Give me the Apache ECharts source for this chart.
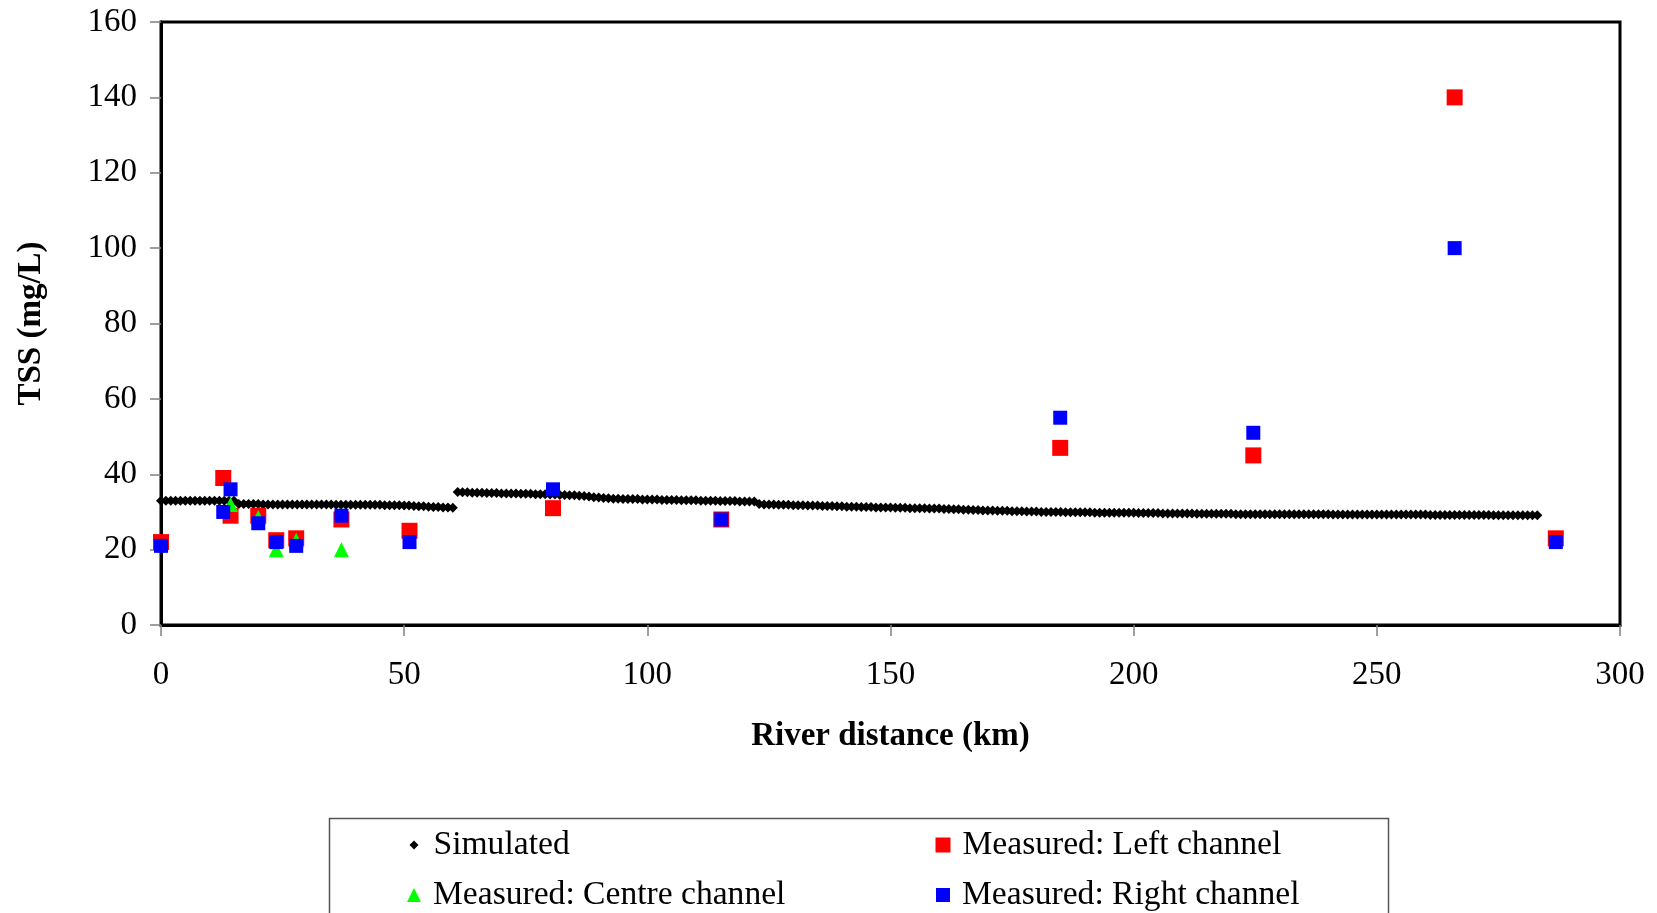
<!DOCTYPE html>
<html>
<head>
<meta charset="utf-8">
<script src="https://cdn.jsdelivr.net/npm/echarts@6/dist/echarts.min.js"></script>
<style>
html,body{margin:0;padding:0;background:#fff;}
#chart{width:1657px;height:913px;}
</style>
</head>
<body>
<div id="chart"></div>
<script>
// ---- Data ----
const xTicks = [0, 50, 100, 150, 200, 250, 300];
const yTicks = [0, 20, 40, 60, 80, 100, 120, 140, 160];

// Simulated TSS, one value per km starting at 0 km
const simStartKm = 0;
const simStepKm = 1;
const simulated = [
  33,33,33,33,33,33,33,33,33,33,33,33,33,33,33,33,
  32.1,32.1,32.1,32.1,32.1,32.0,32.0,32.0,32.0,32.0,32.0,32.0,32.0,32.0,32.0,32.0,32.0,32.0,32.0,32.0,31.9,31.9,31.9,31.9,31.9,31.9,31.9,31.9,31.9,31.9,31.8,31.8,31.8,
  31.8,31.7,31.7,31.6,31.5,31.5,31.4,31.3,31.3,31.2,31.2,31.1,
  35.3,35.2,35.2,35.1,35.1,35.1,35.0,35.0,35.0,34.9,34.9,34.9,34.9,34.8,34.8,34.8,34.7,34.7,34.7,34.6,
  34.6,34.5,34.5,34.4,34.4,34.3,34.2,34.1,33.9,33.8,33.7,33.6,
  33.5,33.5,33.4,33.4,33.4,33.4,33.3,33.3,33.3,33.3,33.2,33.2,33.2,33.2,33.1,33.1,33.1,33.1,33.0,33.0,33.0,33.0,32.9,32.9,32.9,32.9,32.8,32.8,32.8,32.8,
  32.1,32.0,32.0,32.0,31.9,31.9,31.9,31.8,31.8,31.8,31.7,31.7,31.7,31.6,31.6,31.6,31.5,31.5,
  31.4,31.4,31.4,31.3,31.3,31.3,31.2,31.2,31.2,31.2,31.1,31.1,31.1,31.0,31.0,31.0,31.0,30.9,30.9,30.9,
  30.8,30.8,30.7,30.7,30.6,30.6,30.5,30.5,30.4,30.4,30.4,30.3,30.3,30.3,30.2,30.2,30.2,30.1,30.1,30.1,
  30.0,30.0,30.0,30.0,30.0,29.9,29.9,29.9,29.9,29.9,29.9,29.8,29.8,29.8,29.8,29.8,29.8,29.8,29.8,29.8,
  29.7,29.7,29.7,29.7,29.7,29.6,29.6,29.6,29.6,29.6,29.6,29.6,29.5,29.5,29.5,29.5,29.5,29.5,29.5,29.5,
  29.4,29.4,29.4,29.4,29.4,29.4,29.4,29.4,29.4,29.4,29.4,29.4,29.4,29.4,29.4,29.4,29.4,29.4,29.4,29.4,
  29.3,29.3,29.3,29.3,29.3,29.3,29.3,29.3,29.3,29.3,29.3,29.3,29.3,29.3,29.3,29.3,29.3,29.3,29.3,29.3,
  29.2,29.2,29.2,29.2,29.2,29.2,29.2,29.2,29.2,29.2,29.2,29.2,29.2,
  29.1,29.1,29.1,29.1,29.1,29.1,29.1,29.1,29.1,29.1
];

const leftKm    = [0, 12.8, 14.3, 20.0, 23.7, 27.8, 37.1, 51.1, 80.6, 115.2, 184.9, 224.6, 266.0, 286.8];
const leftTSS   = [22, 39, 29, 29, 22.5, 23, 28, 25, 31, 28, 47, 45, 140, 23];

const centreKm  = [14.3, 20.0, 23.7, 27.8, 37.1];
const centreTSS = [32, 28.5, 20, 22.5, 20];

const rightKm   = [0, 12.8, 14.3, 20.0, 23.7, 27.8, 37.1, 51.1, 80.6, 115.2, 184.9, 224.6, 266.0, 286.8];
const rightTSS  = [21, 30, 36, 27, 22, 21, 29, 22, 36, 28, 55, 51, 100, 22];

const names = ['Simulated', 'Measured: Left channel', 'Measured: Centre channel', 'Measured: Right channel'];

// ---- Build ----
const pair = (xs, ys) => xs.map((x, i) => [x, ys[i]]);
const simData = simulated.map((v, i) => [simStartKm + i * simStepKm, v]);

const FONT = '"Liberation Serif", "Times New Roman", serif';
const chart = echarts.init(document.getElementById('chart'), null, {renderer: 'canvas'});

function legendAt(name, icon, size, left, top, pad) {
  return {
    data: [{name: name, icon: icon}],
    left: left, top: top,
    itemWidth: size, itemHeight: size,
    padding: 0,
    selectedMode: false,
    itemStyle: {opacity: 1},
    textStyle: {fontFamily: FONT, fontSize: 33.6, color: '#000', lineHeight: 36, padding: [0, 0, 0, pad]}
  };
}

chart.setOption({
  backgroundColor: '#fff',
  animation: false,
  grid: {left: 161, right: 37, top: 22, bottom: 288, show: true, borderColor: '#000', borderWidth: 3, backgroundColor: 'transparent'},
  xAxis: {
    type: 'value', min: xTicks[0], max: xTicks[xTicks.length - 1], interval: 50,
    name: 'River distance (km)', nameLocation: 'middle', nameGap: 95,
    nameTextStyle: {fontFamily: FONT, fontSize: 33, fontWeight: 'bold', color: '#000'},
    axisLine: {lineStyle: {color: '#000', width: 3}},
    axisTick: {show: true, length: 11, lineStyle: {color: '#808080', width: 1.5}},
    axisLabel: {fontFamily: FONT, fontSize: 33, color: '#000', margin: 34},
    splitLine: {show: false}
  },
  yAxis: {
    type: 'value', min: yTicks[0], max: yTicks[yTicks.length - 1], interval: 20,
    name: 'TSS (mg/L)', nameLocation: 'middle', nameGap: 113, nameRotate: 90,
    nameTextStyle: {fontFamily: FONT, fontSize: 33, fontWeight: 'bold', color: '#000'},
    axisLine: {show: true, lineStyle: {color: '#000', width: 3}},
    axisTick: {show: true, length: 11, lineStyle: {color: '#808080', width: 1.5}},
    axisLabel: {fontFamily: FONT, fontSize: 33, color: '#000', margin: 24},
    splitLine: {show: false}
  },
  legend: [
    legendAt(names[0], 'diamond', 9, 409.5, 827, 10),
    legendAt(names[1], 'rect', 15, 935.5, 827, 7),
    legendAt(names[2], 'triangle', 14, 407, 877, 7),
    legendAt(names[3], 'rect', 14, 936, 877, 7)
  ],
  graphic: [{
    type: 'rect', left: 327, top: 816, silent: true, z: -1,
    shape: {width: 1059, height: 140},
    style: {fill: 'none', stroke: '#555', lineWidth: 1.5}
  }],
  series: [
    {name: names[0], type: 'scatter', data: simData, symbol: 'diamond', symbolSize: 10,
     itemStyle: {color: '#000', opacity: 1}, z: 2},
    {name: names[1], type: 'scatter', data: pair(leftKm, leftTSS), symbol: 'rect', symbolSize: 16,
     itemStyle: {color: '#ff0000', opacity: 1}, z: 3},
    {name: names[2], type: 'scatter', data: pair(centreKm, centreTSS), symbol: 'triangle', symbolSize: 15,
     itemStyle: {color: '#00ff00', opacity: 1}, z: 4},
    {name: names[3], type: 'scatter', data: pair(rightKm, rightTSS), symbol: 'rect', symbolSize: 14,
     itemStyle: {color: '#0000ff', opacity: 1}, z: 5}
  ]
});
</script>
</body>
</html>
